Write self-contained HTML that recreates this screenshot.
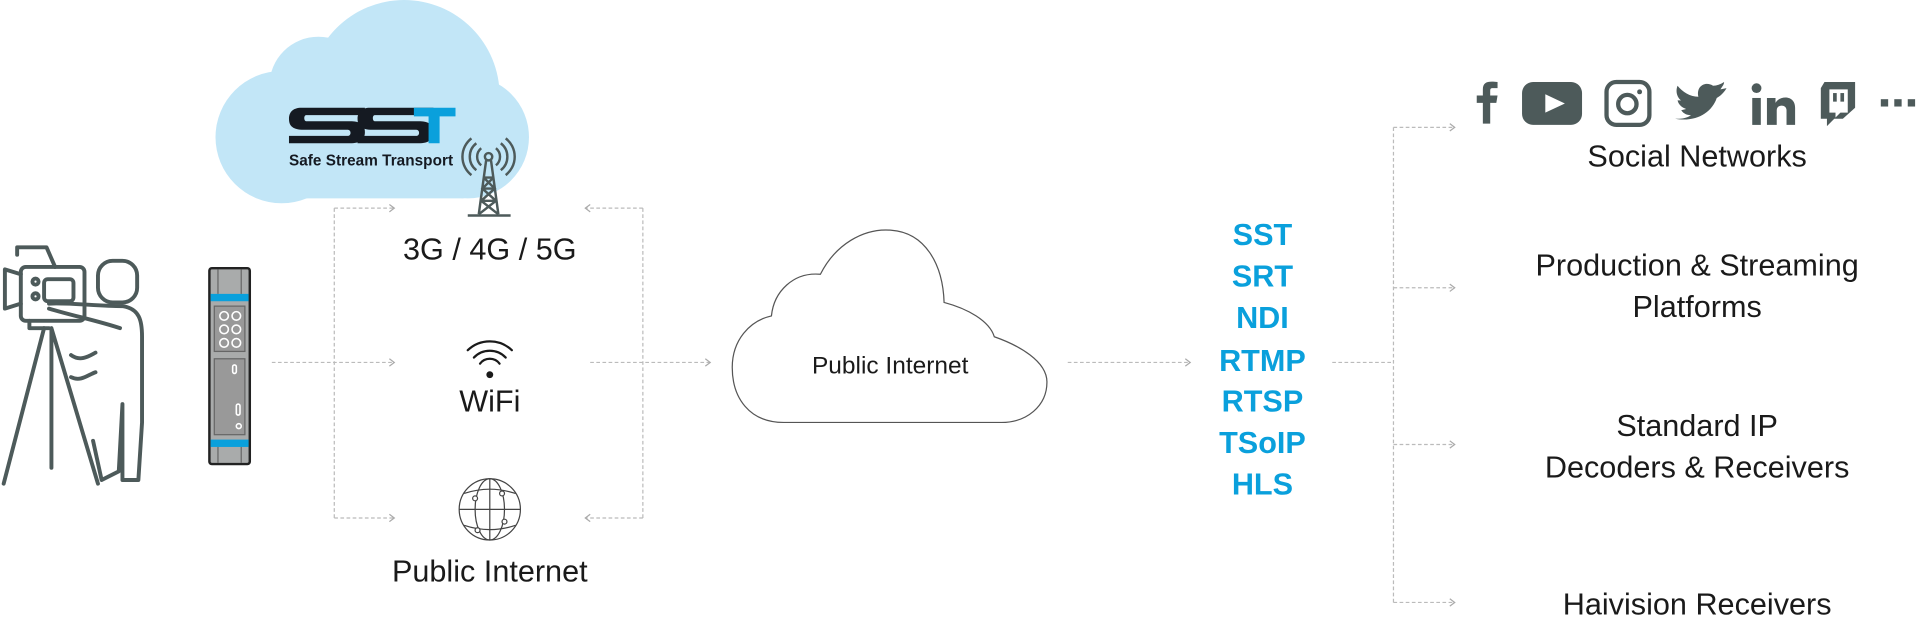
<!DOCTYPE html>
<html><head><meta charset="utf-8"><style>
html,body{margin:0;padding:0;background:#fff;width:1920px;height:624px;overflow:hidden}
svg{display:block}
text{font-family:"Liberation Sans",sans-serif}
</style></head><body>
<svg width="1920" height="624" viewBox="0 0 1568 509.6" xmlns="http://www.w3.org/2000/svg">
<defs>
<marker id="ar" markerWidth="8" markerHeight="8" refX="6" refY="4" orient="auto" markerUnits="userSpaceOnUse">
<path d="M2,1 L6,4 L2,7" fill="none" stroke="#aaa" stroke-width="1"/></marker>
</defs>
<!-- SST cloud -->
<g fill="#c2e6f7">
<circle cx="230" cy="112" r="54"/>
<circle cx="260" cy="70" r="40"/>
<circle cx="330" cy="78" r="78"/>
<circle cx="382" cy="112" r="50"/>
<rect x="230" y="100" width="152" height="62" rx="4"/>
</g>
<g fill="#151a22">
<path d="M246,88 L298,88 L298,94 L250,94 C248,94 248,99 250,99 L286,99 C296,99 298,103 298,108 C298,114 294,117 286,117 L236,117 L236,111 L284,111 C287,111 287,106 284,106 L248,106 C238,106 236,102 236,97 C236,91 240,88 246,88 Z"/>
<path d="M302,88 L354,88 L354,94 L306,94 C304,94 304,99 306,99 L342,99 C352,99 354,103 354,108 C354,114 350,117 342,117 L292,117 L292,111 L340,111 C343,111 343,106 340,106 L304,106 C294,106 292,102 292,97 C292,91 296,88 302,88 Z"/>
</g>
<path fill="#0aa0dc" d="M338,88 L372,88 L372,95 L359,95 L359,117 L350,117 L350,95 L338,95 Z"/>
<text x="236" y="135" font-size="12.5" font-weight="bold" fill="#151a22" textLength="134">Safe Stream Transport</text>
<!-- tower -->
<g stroke="#4d5a5a" fill="none" stroke-width="2">
<circle cx="399" cy="128" r="3"/>
<path d="M393,121 a9,9 0 0 0 0,14 M405,121 a9,9 0 0 1 0,14"/>
<path d="M389,117 a14,14 0 0 0 0,22 M409,117 a14,14 0 0 1 0,22"/>
<path d="M385,113 a19,19 0 0 0 0,30 M413,113 a19,19 0 0 1 0,30"/>
<path d="M397,131 L391,175 M401,131 L407,175 M395,145 L403,145 M394,154 L404,154 M393,164 L405,164 M395,145 L404,154 L393,164 L407,175 M403,145 L394,154 L405,164 L391,175"/>
<path d="M382,176 L417,176"/>
</g>
<!-- camera person -->
<g stroke="#4d5a5a" stroke-width="3.2" fill="none" stroke-linejoin="round" stroke-linecap="round">
<rect x="80" y="213" width="32" height="34" rx="12"/>
<path d="M14,208 L14,202 L38,202 L45,218"/>
<rect x="17" y="218" width="52" height="44" rx="4"/>
<path d="M17,224 L4,220 L4,252 L17,248"/>
<rect x="36" y="228" width="24" height="18" rx="3"/>
<circle cx="29" cy="230" r="2.5"/><circle cx="29" cy="242" r="2.5"/>
<path d="M24,262 L24,268 L40,268"/>
<path d="M36,268 L3,395 M42,268 L80,395 M42,268 L42,382"/>
<path d="M40,252 C60,258 80,262 98,268"/>
<path d="M40,248 C55,247 80,250 100,250 C114,252 116,262 116,275 L116,345 L113,392 L100,392 L100,330 L97,385 L83,392 L76,360"/>
<path d="M58,290 C66,296 74,290 78,288 M58,308 C66,312 72,306 78,304"/>
</g>
<!-- device -->
<g>
<rect x="171" y="219" width="33" height="160" rx="2" fill="#a9abab" stroke="#222" stroke-width="2"/>
<rect x="172" y="240" width="31" height="6" fill="#0aa0dc"/>
<rect x="172" y="359" width="31" height="6" fill="#0aa0dc"/>
<line x1="178" y1="220" x2="178" y2="240" stroke="#666"/><line x1="197" y1="220" x2="197" y2="240" stroke="#666"/>
<line x1="178" y1="365" x2="178" y2="378" stroke="#666"/><line x1="197" y1="365" x2="197" y2="378" stroke="#666"/>
<rect x="175" y="250" width="25" height="37" fill="#999" stroke="#666"/>
<rect x="175" y="293" width="25" height="62" fill="#999" stroke="#666"/>
<g fill="none" stroke="#fff" stroke-width="1.3">
<circle cx="183" cy="258" r="3.5"/><circle cx="193" cy="258" r="3.5"/>
<circle cx="183" cy="269" r="3.5"/><circle cx="193" cy="269" r="3.5"/>
<circle cx="183" cy="280" r="3.5"/><circle cx="193" cy="280" r="3.5"/>
<rect x="190" y="298" width="3" height="7" rx="1.5"/><rect x="193" y="330" width="3" height="9" rx="1.5"/><circle cx="195" cy="348" r="2"/>
</g>
</g>
<!-- connectors -->
<g stroke="#bbb" stroke-width="1" stroke-dasharray="3,2" fill="none">
<path d="M222,296 L322,296" marker-end="url(#ar)"/>
<path d="M273,170 L273,423"/>
<path d="M273,170 L322,170" marker-end="url(#ar)"/>
<path d="M273,423 L322,423" marker-end="url(#ar)"/>
<path d="M525,170 L525,423"/>
<path d="M525,170 L478,170" marker-end="url(#ar)"/>
<path d="M525,423 L478,423" marker-end="url(#ar)"/>
<path d="M482,296 L580,296" marker-end="url(#ar)"/>
<path d="M872,296 L972,296" marker-end="url(#ar)"/>
<path d="M1088,296 L1138,296"/>
<path d="M1138,104 L1138,492"/>
<path d="M1138,104 L1188,104" marker-end="url(#ar)"/>
<path d="M1138,235 L1188,235" marker-end="url(#ar)"/>
<path d="M1138,363 L1188,363" marker-end="url(#ar)"/>
<path d="M1138,492 L1188,492" marker-end="url(#ar)"/>
</g>
<!-- middle labels -->
<g fill="#1a1a1a" text-anchor="middle">
<text x="400" y="212" font-size="25">3G / 4G / 5G</text>
<text x="400" y="336" font-size="25">WiFi</text>
<text x="400" y="475" font-size="25">Public Internet</text>
</g>
<!-- wifi -->
<g stroke="#1a1a1a" stroke-width="1.8" fill="none" stroke-linecap="round">
<path d="M382,286 a26,26 0 0 1 36,0"/>
<path d="M387,292 a18,18 0 0 1 26,0"/>
<path d="M392,297 a10,10 0 0 1 16,0"/>
</g>
<circle cx="400" cy="306" r="2.8" fill="#1a1a1a"/>
<!-- globe -->
<g stroke="#444" stroke-width="1" fill="none">
<circle cx="400" cy="416" r="25"/>
<ellipse cx="400" cy="416" rx="12" ry="25"/>
<line x1="400" y1="391" x2="400" y2="441"/>
<line x1="375" y1="416" x2="425" y2="416"/>
<path d="M379,403 Q400,396 421,403 M379,429 Q400,436 421,429"/>
<circle cx="388" cy="407" r="2" fill="#fff"/><circle cx="410" cy="403" r="2" fill="#fff"/>
<circle cx="412" cy="426" r="2" fill="#fff"/><circle cx="390" cy="433" r="2" fill="#fff"/>
</g>
<!-- public internet cloud -->
<path d="M640,345 C612,345 598,325 598,300 C598,278 612,262 630,258 C632,238 648,222 670,224 C682,200 705,186 728,188 C755,190 770,215 771,247 C790,252 808,262 812,275 C832,282 855,295 855,312 C855,332 838,345 818,345 Z" fill="#fff" stroke="#555" stroke-width="1"/>
<text x="727" y="305" font-size="20" fill="#1a1a1a" text-anchor="middle">Public Internet</text>
<!-- protocols -->
<g fill="#0aa0dc" font-weight="bold" font-size="25" text-anchor="middle">
<text x="1031" y="200">SST</text>
<text x="1031" y="234">SRT</text>
<text x="1031" y="268">NDI</text>
<text x="1031" y="303">RTMP</text>
<text x="1031" y="336">RTSP</text>
<text x="1031" y="370">TSoIP</text>
<text x="1031" y="404">HLS</text>
</g>
<!-- right labels -->
<g fill="#1a1a1a" font-size="25" text-anchor="middle">
<text x="1386" y="136">Social Networks</text>
<text x="1386" y="225">Production &amp; Streaming</text>
<text x="1386" y="259">Platforms</text>
<text x="1386" y="356">Standard IP</text>
<text x="1386" y="390">Decoders &amp; Receivers</text>
<text x="1386" y="502">Haivision Receivers</text>
</g>
<!-- social icons -->
<g fill="#4d5a5a">
<path d="M1211,101 L1211,84 L1206,84 L1206,78 L1211,78 L1211,73 C1211,67 1215,66 1223,67 L1223,72 L1219,72 C1217,72 1217,73 1217,75 L1217,78 L1223,78 L1222,84 L1217,84 L1217,101 Z"/>
<rect x="1243" y="67" width="49" height="35" rx="9"/>
<rect x="1312" y="67" width="35" height="35" rx="8" fill="none" stroke="#4d5a5a" stroke-width="3.5"/>
<circle cx="1329" cy="85" r="7.5" fill="none" stroke="#4d5a5a" stroke-width="3.5"/>
<circle cx="1339" cy="75" r="2"/>
<path d="M1368,97 C1385,100 1398,92 1402,80 C1406,78 1409,74 1410,72 L1405,73 C1407,70 1408,69 1408,67 C1405,69 1402,70 1399,70 C1393,66 1385,70 1387,79 C1380,79 1374,75 1370,70 C1368,75 1370,80 1373,82 L1370,82 C1371,86 1374,88 1377,89 L1373,90 C1375,93 1378,94 1381,94 C1377,97 1372,97 1368,97 Z"/>
<rect x="1431" y="80" width="7" height="22"/>
<circle cx="1434.5" cy="72" r="4"/>
<path d="M1443,80 L1450,80 L1450,84 C1453,78 1466,77 1466,88 L1466,102 L1459,102 L1459,90 C1459,85 1451,85 1451,90 L1451,102 L1443,102 Z"/>
<path d="M1490,67 L1515,67 L1515,88 L1505,97 L1498,97 L1492,103 L1492,97 L1487,97 L1487,72 Z M1494,73 L1494,92 L1499,92 L1499,96 L1503,92 L1509,92 L1509,73 Z"/>
<rect x="1497" y="76" width="3" height="7"/><rect x="1503" y="76" width="3" height="7"/>
<rect x="1536" y="81" width="6" height="6"/><rect x="1547" y="81" width="6" height="6"/><rect x="1558" y="81" width="6" height="6"/>
</g>
<path d="M1262,92 L1278,84.5 L1262,77 Z" fill="#fff"/>
</svg>
</body></html>
